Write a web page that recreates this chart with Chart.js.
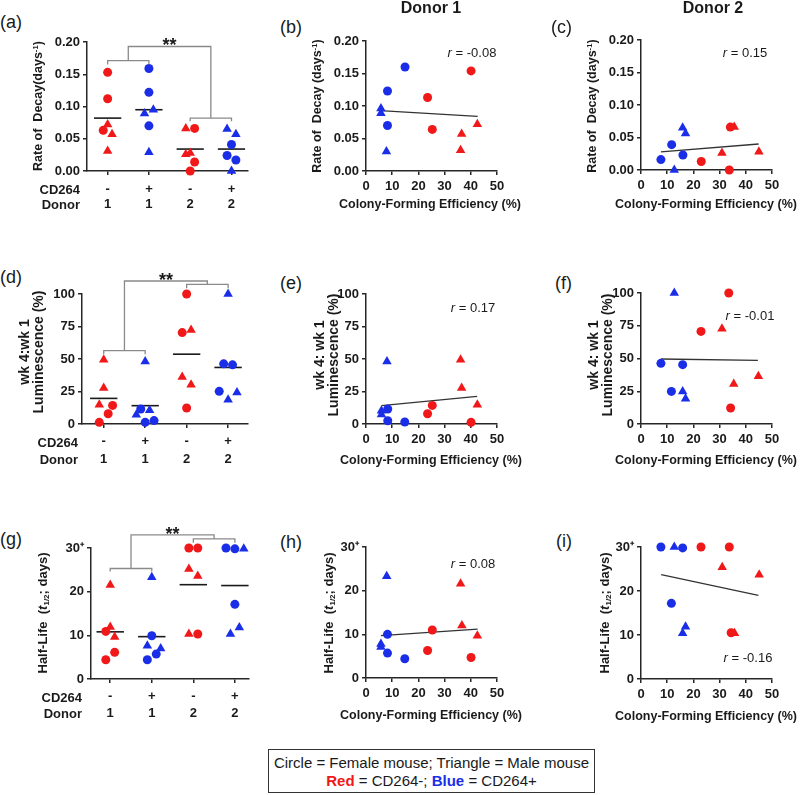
<!DOCTYPE html>
<html>
<head>
<meta charset="utf-8">
<script src="https://cdn.jsdelivr.net/npm/chart.js@4.4.1/dist/chart.umd.min.js"></script>
<style>
  body { margin: 0; background: #fff; width: 800px; height: 795px; position: relative; overflow: hidden;
         font-family: Arial, "Liberation Sans", Helvetica, sans-serif; color: #1a1a1a; }
  canvas { position: absolute; }
  .t { position: absolute; white-space: nowrap; line-height: 1; }
  .c { transform: translate(-50%, -50%); }
  .r { transform: translate(-100%, -50%); }
  .v { transform: translate(-50%, -50%) rotate(-90deg); text-align: center; }
  .pl { font-size: 18px; }
  .hd { font-size: 16px; font-weight: bold; }
  .ax { font-size: 12.5px; font-weight: bold; }
  .lum { font-size: 14px; font-weight: bold; line-height: 14px; }
  .hl { font-size: 13px; font-weight: bold; }
  .rw { font-size: 13px; font-weight: bold; }
  .rv { font-size: 13px; }
  sup { font-size: 0.62em; vertical-align: 0.5em; line-height: 0; }
  sub { font-size: 0.62em; vertical-align: -0.25em; line-height: 0; }
  .legend { position: absolute; left: 268px; top: 749px; width: 327px; height: 44px; box-sizing: border-box;
            border: 1px solid #333; text-align: center; font-size: 15px; line-height: 18px; padding-top: 4px; }
</style>
</head>
<body>

<canvas id="cA"></canvas><canvas id="cB"></canvas><canvas id="cC"></canvas>
<canvas id="cD"></canvas><canvas id="cE"></canvas><canvas id="cF"></canvas>
<canvas id="cG"></canvas><canvas id="cH"></canvas><canvas id="cI"></canvas>

<!-- headers and panel letters -->
<div class="t c hd" style="left:431px;top:8px">Donor 1</div>
<div class="t c hd" style="left:713px;top:8px">Donor 2</div>
<div class="t r pl" style="left:22px;top:22px">(a)</div>
<div class="t r pl" style="left:302px;top:27px">(b)</div>
<div class="t r pl" style="left:572px;top:27px">(c)</div>
<div class="t r pl" style="left:22px;top:277px">(d)</div>
<div class="t r pl" style="left:302px;top:283px">(e)</div>
<div class="t r pl" style="left:572px;top:283px">(f)</div>
<div class="t r pl" style="left:22px;top:539px">(g)</div>
<div class="t r pl" style="left:302px;top:542px">(h)</div>
<div class="t r pl" style="left:572px;top:541px">(i)</div>

<!-- y axis titles -->
<div class="t v ax" style="left:38px;top:106px">Rate of&nbsp; Decay(days<sup>-1</sup>)</div>
<div class="t v ax" style="left:317px;top:106px">Rate of&nbsp; Decay (days<sup>-1</sup>)</div>
<div class="t v ax" style="left:592px;top:106px">Rate of&nbsp; Decay (days<sup>-1</sup>)</div>
<div class="t v lum" style="left:31px;top:352px">wk 4:wk 1<br>Luminescence (%)</div>
<div class="t v lum" style="left:326px;top:355px">wk 4: wk 1<br>Luminescence (%)</div>
<div class="t v lum" style="left:600px;top:355px">wk 4: wk 1<br>Luminescence (%)</div>
<div class="t v hl" style="left:42px;top:613px">Half-Life&nbsp; (<i>t</i><sub>1/2</sub>; days)</div>
<div class="t v hl" style="left:328px;top:613px">Half-Life&nbsp; (<i>t</i><sub>1/2</sub>; days)</div>
<div class="t v hl" style="left:604px;top:613px">Half-Life&nbsp; (<i>t</i><sub>1/2</sub>; days)</div>

<!-- x axis titles -->
<div class="t c ax" style="left:430px;top:204px">Colony-Forming Efficiency (%)</div>
<div class="t c ax" style="left:706px;top:204px">Colony-Forming Efficiency (%)</div>
<div class="t c ax" style="left:431px;top:460px">Colony-Forming Efficiency (%)</div>
<div class="t c ax" style="left:706px;top:460px">Colony-Forming Efficiency (%)</div>
<div class="t c ax" style="left:431px;top:715px">Colony-Forming Efficiency (%)</div>
<div class="t c ax" style="left:706px;top:716px">Colony-Forming Efficiency (%)</div>

<!-- row labels of the group panels -->
<div class="t r rw" style="left:80px;top:189px">CD264</div>
<div class="t r rw" style="left:80px;top:204px">Donor</div>
<div class="t r rw" style="left:78px;top:442px">CD264</div>
<div class="t r rw" style="left:78px;top:459px">Donor</div>
<div class="t r rw" style="left:82px;top:697px">CD264</div>
<div class="t r rw" style="left:82px;top:713px">Donor</div>

<!-- correlation coefficients -->
<div class="t c rv" style="left:472px;top:52px"><i>r</i> = -0.08</div>
<div class="t c rv" style="left:745px;top:52px"><i>r</i> = 0.15</div>
<div class="t c rv" style="left:473px;top:307px"><i>r</i> = 0.17</div>
<div class="t c rv" style="left:750px;top:315px"><i>r</i> = -0.01</div>
<div class="t c rv" style="left:473px;top:563px"><i>r</i> = 0.08</div>
<div class="t c rv" style="left:748px;top:657px"><i>r</i> = -0.16</div>

<div class="legend">Circle = Female mouse; Triangle = Male mouse<br>
  <b style="color:#f01818">Red</b> = CD264-; <b style="color:#1a2ee8">Blue</b> = CD264+</div>

<script>
// groups on the x axis of (a), (d), (g)
const CD264 = ['-', '+', '-', '+'];
const DONOR = ['1', '1', '2', '2'];

// (a) rate of decay, per group: females (circles) and males (triangles)
const DECAY_F = [[0.153, 0.112, 0.063], [0.159, 0.122, 0.070], [0.066, 0.014, 0.000], [0.041, 0.024, 0.017]];
const DECAY_M = [[0.072, 0.057, 0.031], [0.089, 0.095, 0.029], [0.066, 0.026, 0.028], [0.065, 0.057, 0.000]];
const DECAY_F_JIT = [[0, 0, -1], [0, 0, 0], [1, 1, 0], [0, -1, 1]];
const DECAY_M_JIT = [[0, 1, 0], [-1, 1, 0], [-1, -1, 0], [-1, 1, 0]];
const DECAY_MEAN = [0.082, 0.095, 0.034, 0.034];

// (d) wk4:wk1 luminescence per group
const LUM_F = [[14.3, 7.9, 1.3], [11.5, 1.3, 2.6], [100, 70.3, 12.3], [46.3, 45.5, 25.1]];
const LUM_M = [[49.4, 27.6, 14.8], [48.1, 7.2, 10.5], [72.4, 36.1, 30.2], [100, 18.7, 24.3]];
const LUM_F_JIT = [[2, 1, -1], [-1, 0, 2], [0, -1, 0], [-1, 1, -2]];
const LUM_M_JIT = [[0, 0, -1], [0, -2, 1], [1, -1, 1], [0, 0, 2]];
const LUM_MEAN = [19.7, 14.1, 53.7, 43.5];

// (g) half-life per group (30 = 30 or more)
const HALF_F = [[10.9, 6.1, 4.4], [9.9, 5.7, 4.4], [30, 30, 10.3], [30, 29.8, 17.1]];
const HALF_M = [[21.5, 11.9, 9.6], [23.3, 7.6, 7.0], [25.2, 23.6, 10.3], [29.8, 10.3, 11.8]];
const HALF_F_JIT = [[-1, 1, -1], [0, 1, -1], [-1, 1, 1], [-2, 0, 0]];
const HALF_M_JIT = [[0, 0, 1], [0, -1, 2], [-1, 1, -1], [2, -1, 1]];
const HALF_MEAN = [10.8, 9.7, 21.6, 21.4];

// mice in the scatter panels: 3 red F, 3 red M, 3 blue F, 3 blue M
const MOUSE_CD = ['-', '-', '-', '-', '-', '-', '+', '+', '+', '+', '+', '+'];
const MOUSE_SEX = ['F', 'F', 'F', 'M', 'M', 'M', 'F', 'F', 'F', 'M', 'M', 'M'];

// donor 1
const CFE_B = [40.1, 23.5, 25.3, 42.5, 36.5, 36.1, 14.9, 8.2, 8.2, 5.7, 5.7, 7.8];
const DECAY_B = [0.154, 0.113, 0.064, 0.072, 0.057, 0.032, 0.160, 0.123, 0.070, 0.096, 0.089, 0.030];
const CFE_E = [40.1, 23.5, 25.3, 42.5, 36.5, 36.1, 14.8, 8.3, 8.3, 5.9, 5.9, 8.0];
const LUM_E = [1.3, 7.9, 14.3, 14.8, 27.6, 49.4, 1.5, 11.5, 2.5, 10.2, 7.4, 48.1];
const CFE_H = [40.1, 23.5, 25.3, 42.5, 36.6, 36.1, 14.8, 8.2, 8.2, 5.7, 5.7, 7.9];
const HALF_H = [4.7, 6.3, 11.0, 9.7, 12.0, 21.6, 4.4, 10.0, 5.7, 7.8, 7.1, 23.3];

// donor 2
const CFE_C = [23.0, 34.1, 33.7, 35.6, 30.9, 45.0, 7.6, 11.7, 16.0, 15.9, 17.0, 12.7];
const DECAY_C = [0.013, 0.066, 0.000, 0.066, 0.026, 0.028, 0.016, 0.039, 0.023, 0.065, 0.056, 0.000];
const CFE_F = [22.9, 33.5, 34.2, 30.9, 35.4, 44.8, 7.6, 15.9, 11.6, 12.7, 15.9, 17.0];
const LUM_F2 = [70.7, 100, 12.2, 72.8, 30.5, 36.4, 46.3, 45.3, 24.9, 100, 24.9, 19.3];
const CFE_I = [22.9, 33.7, 34.4, 31.0, 35.7, 45.1, 7.6, 15.9, 11.6, 12.7, 15.9, 17.0];
const HALF_I = [30, 30, 10.5, 25.4, 10.4, 23.7, 30, 29.8, 17.2, 30, 10.4, 11.9];

// regression lines, start and end
const FIT_B = [[5.4, 0.093], [42.6, 0.084]];
const FIT_C = [[7.6, 0.028], [44.9, 0.040]];
const FIT_E = [[5.9, 14.1], [42.4, 21.2]];
const FIT_F = [[7.6, 49.6], [44.6, 48.6]];
const FIT_H = [[5.7, 9.7], [42.6, 11.2]];
const FIT_I = [[7.7, 23.7], [44.8, 19.0]];

// tick values
const DECAY_TICKS = [0, 0.05, 0.10, 0.15, 0.20];
const LUM_TICKS = [0, 25, 50, 75, 100];
const HALF_TICKS = [0, 10, 20, 30];
const CFE_TICKS = [0, 10, 20, 30, 40, 50];

// significance brackets (data units)
const SIG_A = { left: 0.171, leftTick: 0.165, top: 0.193, right: 0.082, rightTick: 0.077, star: 0.201 };
const SIG_D = { left: 56.5, leftTick: 53.7, top: 110, right: 107.4, rightTick: 104.4, star: 113.8 };
const SIG_G = { left: 25.3, leftTick: 24.6, top: 33.0, right: 32.1, rightTick: 31.2, star: 34.1 };

/* ---------- style / layout ---------- */
const FONT = 'Arial, "Liberation Sans", Helvetica, sans-serif';
const INK = '#1a1a1a';
const AXIS = '#262626';
const RED = '#f01818';
const BLUE = '#1a2ee8';
const W_Y = 60, H_X = 50, PAD_T = 30, PAD_R = 20;
const JIT = 0.107;
const MEAN_HALF = 0.33;

const sigPlugin = {
    id: 'sig',
    afterDatasetsDraw(chart, args, opts) {
        const b = opts.b;
        if (!b) return;
        const px = v => chart.scales.x.getPixelForValue(v);
        const py = v => chart.scales.y.getPixelForValue(v);
        const ctx = chart.ctx;
        ctx.save();
        ctx.strokeStyle = '#8a8a8a';
        ctx.lineWidth = 1.3;
        ctx.beginPath();
        ctx.moveTo(px(1), py(b.leftTick)); ctx.lineTo(px(1), py(b.left));
        ctx.lineTo(px(2), py(b.left)); ctx.lineTo(px(2), py(b.leftTick));
        ctx.moveTo(px(3), py(b.rightTick)); ctx.lineTo(px(3), py(b.right));
        ctx.lineTo(px(4), py(b.right)); ctx.lineTo(px(4), py(b.rightTick));
        ctx.moveTo(px(1.5), py(b.left)); ctx.lineTo(px(1.5), py(b.top));
        ctx.lineTo(px(3.5), py(b.top)); ctx.lineTo(px(3.5), py(b.right));
        ctx.stroke();
        // the two stars sit high in the em box, so push them down a little
        ctx.fillStyle = INK;
        ctx.font = 'bold 18px ' + FONT;
        ctx.textAlign = 'center';
        ctx.textBaseline = 'middle';
        ctx.fillText('**', px(2.5), py(b.star) + 5);
        ctx.restore();
    }
};

function axis(min, max, ticks, fmt, pad) {
    return {
        type: 'linear', min, max,
        afterBuildTicks: s => { s.ticks = ticks.map(v => ({ value: v })); },
        ticks: { callback: fmt, color: INK, autoSkip: false, maxRotation: 0, padding: pad,
                 font: { size: 13, weight: 'bold', family: FONT } },
        grid: { drawOnChartArea: false, drawTicks: true, tickLength: 4, color: AXIS, lineWidth: 1.5 },
        border: { display: true, color: AXIS, width: 1.5 }
    };
}

function markerSet(data, cd, sex) {
    const col = cd === '-' ? RED : BLUE;
    return {
        data, clip: false,
        pointStyle: sex === 'F' ? 'circle' : 'triangle',
        pointRadius: sex === 'F' ? 4.5 : 5.5,
        backgroundColor: col, borderColor: col, borderWidth: 0
    };
}

function lineSet(data, color, width) {
    return { data, showLine: true, clip: false, pointRadius: 0, borderColor: color, borderWidth: width, fill: false };
}

function build(id, area, datasets, xScale, yScale, sig) {
    const cv = document.getElementById(id);
    const [L, T, R, B] = area;
    cv.width = R - L + W_Y + PAD_R;
    cv.height = B - T + PAD_T + H_X;
    cv.style.left = (L - W_Y) + 'px';
    cv.style.top = (T - PAD_T) + 'px';
    xScale.afterFit = s => { s.height = H_X; };
    yScale.afterFit = s => { s.width = W_Y; };
    new Chart(cv, {
        type: 'scatter',
        data: { datasets },
        options: {
            responsive: false, animation: false, events: [],
            layout: { padding: { top: PAD_T, right: PAD_R, left: 0, bottom: 0 } },
            plugins: { legend: { display: false }, tooltip: { enabled: false }, sig: { b: sig } },
            scales: { x: xScale, y: yScale }
        },
        plugins: [sigPlugin]
    });
}

function columnPanel(id, area, xr, yTicks, fmt, F, M, FJ, MJ, means, sig, lh, pad) {
    const sets = [];
    for (let g = 0; g < 4; g++) {
        sets.push(markerSet(F[g].map((v, i) => ({ x: g + 1 + FJ[g][i] * JIT, y: v })), CD264[g], 'F'));
        sets.push(markerSet(M[g].map((v, i) => ({ x: g + 1 + MJ[g][i] * JIT, y: v })), CD264[g], 'M'));
        sets.push(lineSet([{ x: g + 1 - MEAN_HALF, y: means[g] }, { x: g + 1 + MEAN_HALF, y: means[g] }], INK, 1.6));
    }
    const x = axis(xr[0], xr[1], [1, 2, 3, 4], (v, i) => [CD264[i], DONOR[i]], pad);
    x.ticks.font.lineHeight = lh + 'px';
    const y = axis(yTicks[0], yTicks[yTicks.length - 1], yTicks, fmt, 3);
    build(id, area, sets, x, y, sig);
}

function scatterPanel(id, area, xs, ys, fit, yTicks, fmt) {
    const sets = [];
    [['-', 'F'], ['-', 'M'], ['+', 'F'], ['+', 'M']].forEach(([cd, sex]) => {
        const data = [];
        xs.forEach((x, i) => { if (MOUSE_CD[i] === cd && MOUSE_SEX[i] === sex) data.push({ x, y: ys[i] }); });
        sets.push(markerSet(data, cd, sex));
    });
    sets.push(lineSet(fit.map(p => ({ x: p[0], y: p[1] })), '#333', 1.3));
    const x = axis(CFE_TICKS[0], CFE_TICKS[CFE_TICKS.length - 1], CFE_TICKS, v => String(v), 3.5);
    const y = axis(yTicks[0], yTicks[yTicks.length - 1], yTicks, fmt, 3);
    build(id, area, sets, x, y, null);
}

const fmtDecay = v => v.toFixed(2);
const fmtLum = v => String(v);
const fmtHalf = v => (v === 30 ? '30\u207A' : String(v));

columnPanel('cA', [87, 42, 248, 171], [0.5, 4.4], DECAY_TICKS, fmtDecay,
    DECAY_F, DECAY_M, DECAY_F_JIT, DECAY_M_JIT, DECAY_MEAN, SIG_A, 15, 6.5);
columnPanel('cD', [82, 294, 248, 424], [0.476, 4.48], LUM_TICKS, fmtLum,
    LUM_F, LUM_M, LUM_F_JIT, LUM_M_JIT, LUM_MEAN, SIG_D, 17.3, 5);
columnPanel('cG', [91, 548, 249, 679], [0.537, 4.34], HALF_TICKS, fmtHalf,
    HALF_F, HALF_M, HALF_F_JIT, HALF_M_JIT, HALF_MEAN, SIG_G, 16.6, 5.4);

scatterPanel('cB', [366, 41, 497, 171], CFE_B, DECAY_B, FIT_B, DECAY_TICKS, fmtDecay);
scatterPanel('cC', [641, 40, 772, 170], CFE_C, DECAY_C, FIT_C, DECAY_TICKS, fmtDecay);
scatterPanel('cE', [366, 294, 497, 424], CFE_E, LUM_E, FIT_E, LUM_TICKS, fmtLum);
scatterPanel('cF', [641, 293, 772, 424], CFE_F, LUM_F2, FIT_F, LUM_TICKS, fmtLum);
scatterPanel('cH', [366, 547, 497, 678], CFE_H, HALF_H, FIT_H, HALF_TICKS, fmtHalf);
scatterPanel('cI', [641, 547, 772, 679], CFE_I, HALF_I, FIT_I, HALF_TICKS, fmtHalf);
</script>
</body>
</html>
